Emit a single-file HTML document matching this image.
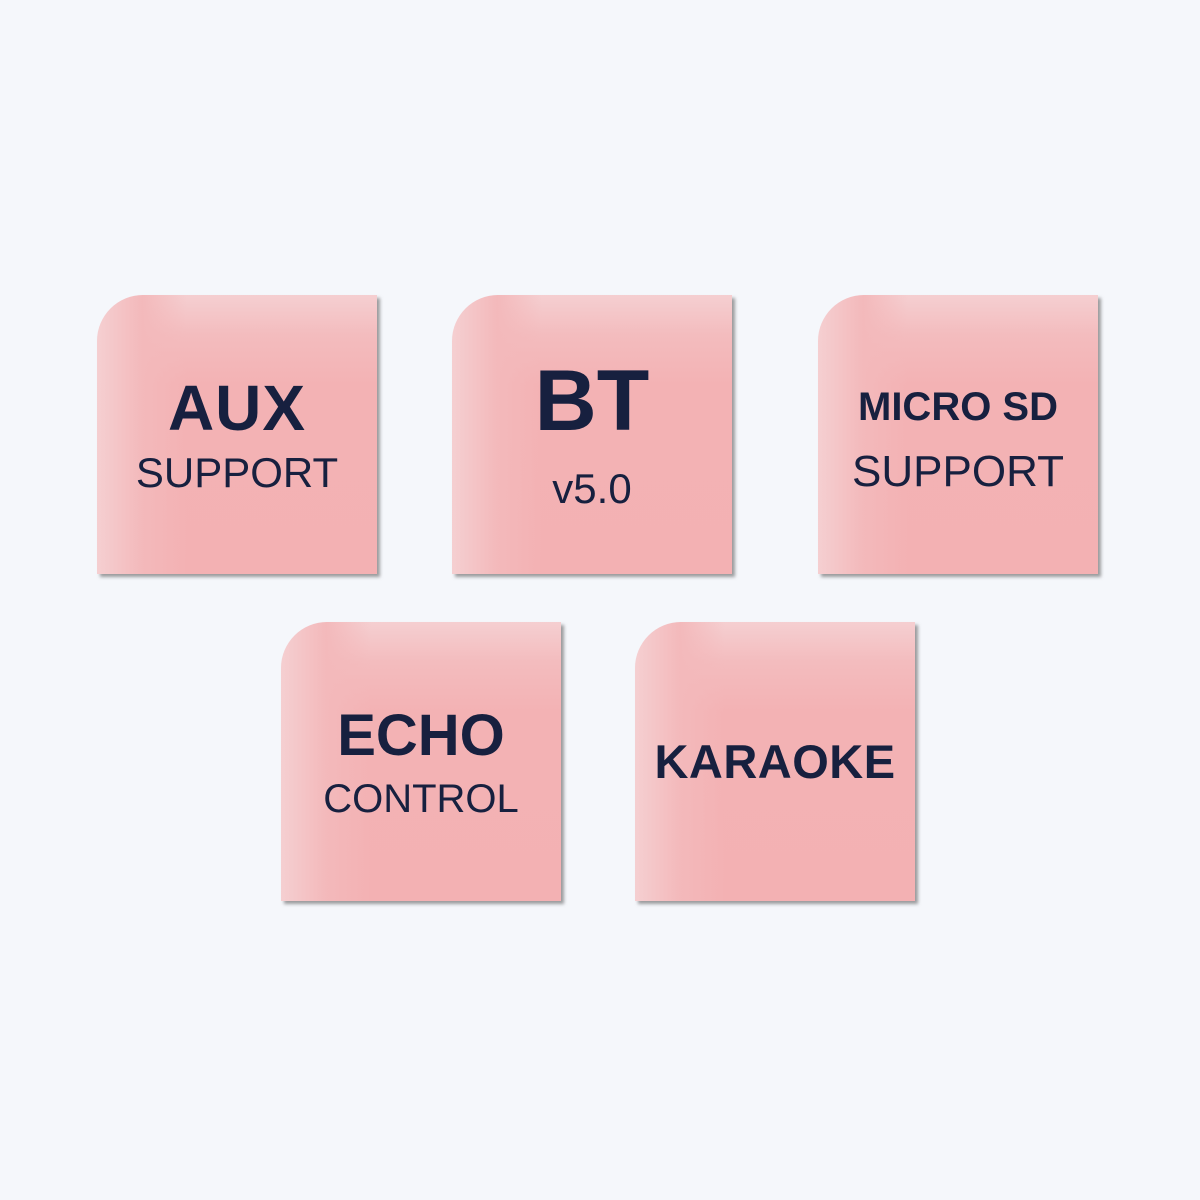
<!DOCTYPE html>
<html><head><style>
body{margin:0;width:1200px;height:1200px;background:#f5f7fb;position:relative;overflow:hidden;font-family:"Liberation Sans",sans-serif;color:#17203f}
.t{position:absolute;width:280px;height:279px;border-radius:46px 0 0 0;
background:linear-gradient(90deg,#f5cfd1 0px,#f3b9bb 45px,rgba(243,180,182,0) 90px),linear-gradient(180deg,#f5cfd1 0px,#f3bcbe 40px,#f3b2b4 90px,#f3b1b3 100%);
box-shadow:3px 3px 3px rgba(80,80,80,.55)}
.l{position:absolute;left:0;width:100%;text-align:center;white-space:nowrap}
.b{font-weight:bold}
</style></head><body>
<div class="t" style="left:97px;top:295px">
<div class="l b" style="top:76px;font-size:64px;letter-spacing:1px">AUX</div>
<div class="l" style="top:154px;font-size:42px">SUPPORT</div></div>
<div class="t" style="left:452px;top:295px">
<div class="l b" style="top:57px;font-size:86px">BT</div>
<div class="l" style="top:170px;font-size:42px">v5.0</div></div>
<div class="t" style="left:818px;top:295px">
<div class="l b" style="top:90px;font-size:40px">MICRO SD</div>
<div class="l" style="top:152px;font-size:44px">SUPPORT</div></div>
<div class="t" style="left:281px;top:622px">
<div class="l b" style="top:80px;font-size:58px">ECHO</div>
<div class="l" style="top:155px;font-size:40px">CONTROL</div></div>
<div class="t" style="left:635px;top:622px">
<div class="l b" style="top:112px;font-size:47px;letter-spacing:0.5px">KARAOKE</div></div>
</body></html>
